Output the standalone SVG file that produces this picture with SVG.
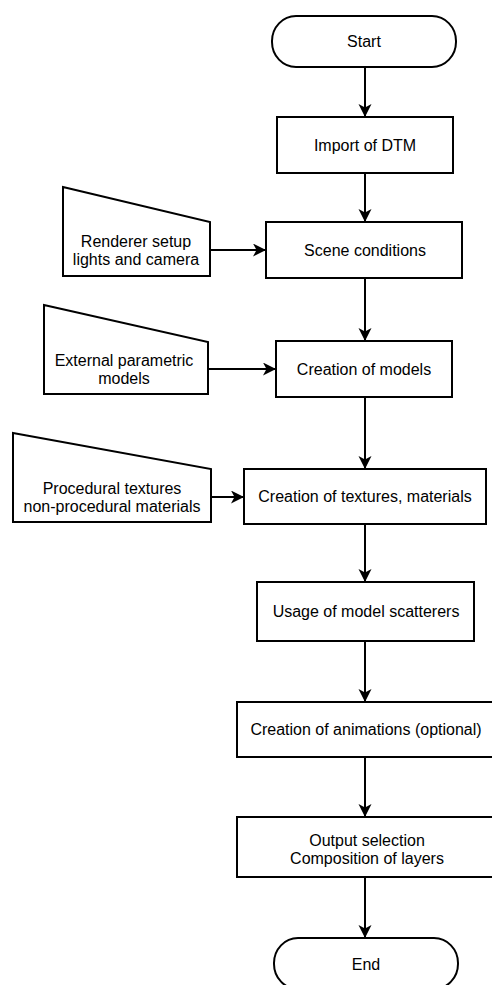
<svg xmlns="http://www.w3.org/2000/svg" width="492" height="985" viewBox="0 0 492 985">
<style>
.s{fill:#fff;stroke:#000;stroke-width:2}
.t{font-family:"Liberation Sans",Arial,sans-serif;font-size:16px;fill:#000;text-anchor:middle}
.c{stroke:#000;stroke-width:2;fill:none}
</style>
<defs>
<marker id="a" markerUnits="userSpaceOnUse" markerWidth="14" markerHeight="14" refX="13" refY="6.5" orient="auto">
<path d="M0,0 L13,6.5 L0,13 L3.5,6.5 z" fill="#000"/>
</marker>
</defs>
<rect width="492" height="985" fill="#fff"/>
<g id="connectors">
<line class="c" x1="365" y1="67" x2="365" y2="117" marker-end="url(#a)"/>
<line class="c" x1="365" y1="173" x2="365" y2="222" marker-end="url(#a)"/>
<line class="c" x1="365" y1="278" x2="365" y2="341" marker-end="url(#a)"/>
<line class="c" x1="365" y1="397" x2="365" y2="469" marker-end="url(#a)"/>
<line class="c" x1="365" y1="524" x2="365" y2="582" marker-end="url(#a)"/>
<line class="c" x1="365" y1="641" x2="365" y2="702" marker-end="url(#a)"/>
<line class="c" x1="365" y1="757" x2="365" y2="817" marker-end="url(#a)"/>
<line class="c" x1="365" y1="877" x2="365" y2="938" marker-end="url(#a)"/>
<line class="c" x1="210" y1="250" x2="266" y2="250" marker-end="url(#a)"/>
<line class="c" x1="208" y1="369" x2="276" y2="369" marker-end="url(#a)"/>
<line class="c" x1="211" y1="497" x2="244" y2="497" marker-end="url(#a)"/>
</g>
<g id="start">
<rect class="s" x="272" y="16" width="184" height="51" rx="24" ry="25"/>
<text class="t" x="364" y="47">Start</text>
</g>
<g id="import">
<rect class="s" x="277" y="117" width="176" height="56"/>
<text class="t" x="365" y="151">Import of DTM</text>
</g>
<g id="scene">
<rect class="s" x="266" y="222" width="196" height="56"/>
<text class="t" x="365" y="256">Scene conditions</text>
</g>
<g id="renderer">
<polygon class="s" points="63,187 210,222 210,276 63,276"/>
<text class="t" x="136" y="247">Renderer setup</text>
<text class="t" x="136" y="265">lights and camera</text>
</g>
<g id="models">
<rect class="s" x="276" y="341" width="176" height="56"/>
<text class="t" x="364" y="375">Creation of models</text>
</g>
<g id="external">
<polygon class="s" points="44,305 208,342 208,394 44,394"/>
<text class="t" x="124" y="366">External parametric</text>
<text class="t" x="124" y="384">models</text>
</g>
<g id="textures">
<rect class="s" x="244" y="469" width="242" height="55"/>
<text class="t" x="365" y="502">Creation of textures, materials</text>
</g>
<g id="procedural">
<polygon class="s" points="13,433 211,469 211,522 13,522"/>
<text class="t" x="112" y="494">Procedural textures</text>
<text class="t" x="112" y="512">non-procedural materials</text>
</g>
<g id="usage">
<rect class="s" x="257" y="582" width="217" height="59"/>
<text class="t" x="366" y="617">Usage of model scatterers</text>
</g>
<g id="animations">
<rect class="s" x="237" y="702" width="256" height="55"/>
<text class="t" x="366" y="735">Creation of animations (optional)</text>
</g>
<g id="output">
<rect class="s" x="237" y="817" width="256" height="60"/>
<text class="t" x="367" y="846">Output selection</text>
<text class="t" x="367" y="864">Composition of layers</text>
</g>
<g id="end">
<rect class="s" x="274" y="938" width="184" height="51" rx="24" ry="25"/>
<text class="t" x="366" y="970">End</text>
</g>
</svg>
